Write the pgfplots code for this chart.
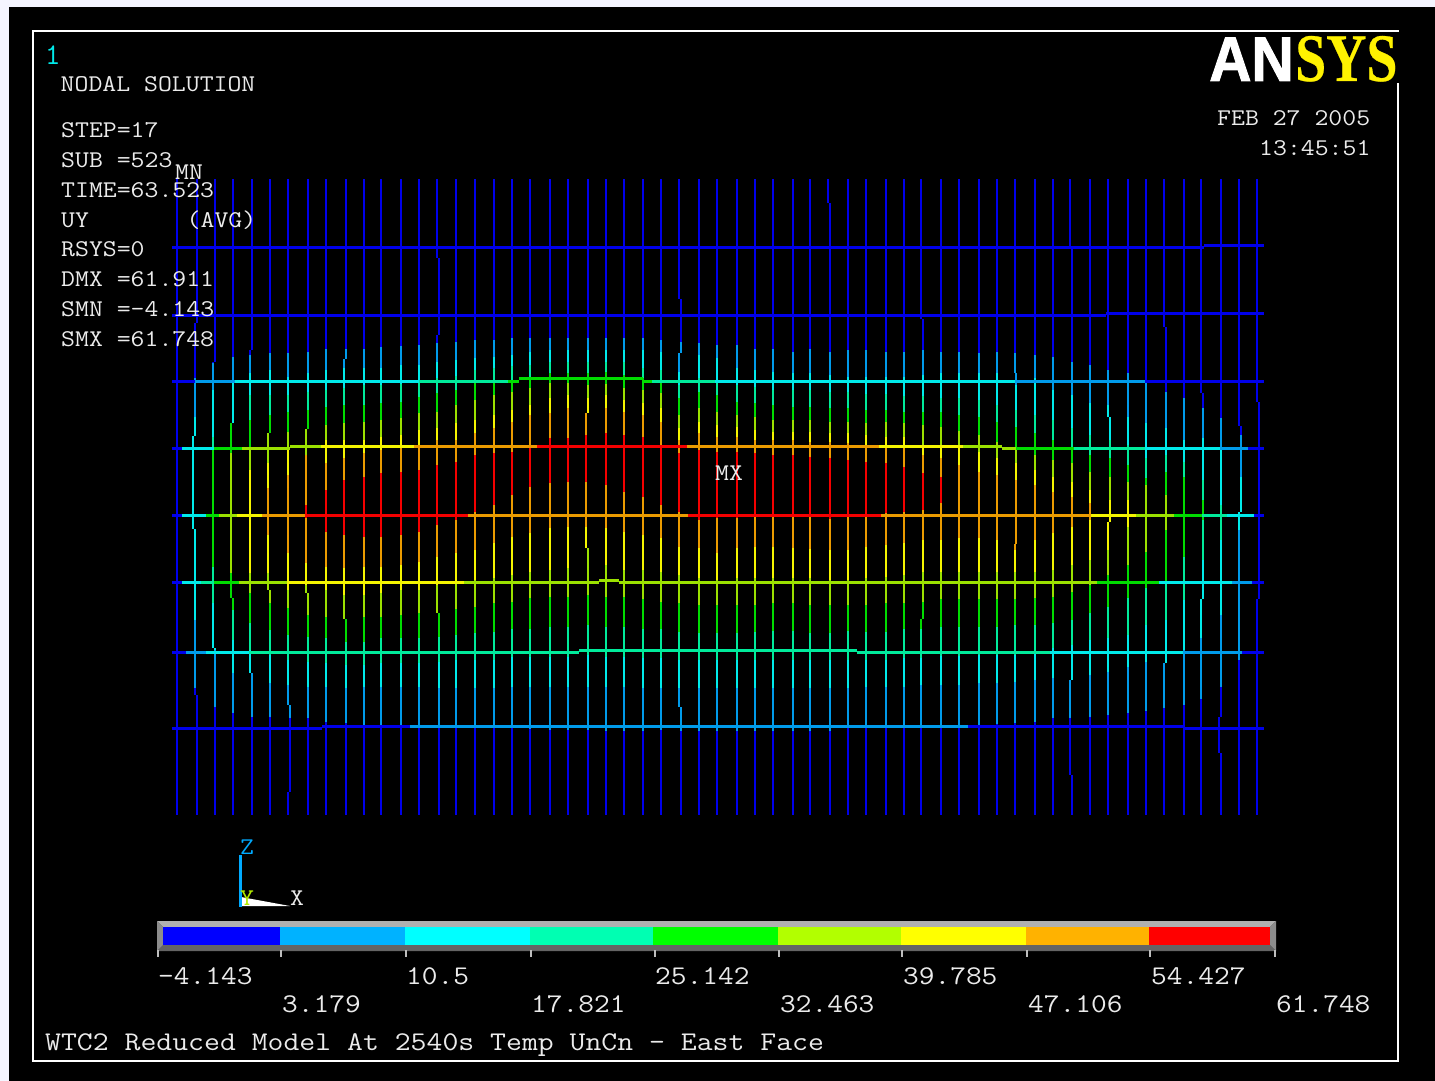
\documentclass[border=0pt]{standalone}
\usepackage{fontspec}
\usepackage{pgfplots}
\pgfplotsset{compat=1.18}
\newfontfamily\logoA[FakeBold=1.5]{Liberation Sans}
\newfontfamily\logoB[FakeBold=0.4]{Liberation Serif}
% line colours of the contour bands
\definecolor{C0}{RGB}{0,0,235}
\definecolor{C1}{RGB}{0,155,235}
\definecolor{C2}{RGB}{0,235,235}
\definecolor{C3}{RGB}{0,235,155}
\definecolor{C4}{RGB}{0,220,0}
\definecolor{C5}{RGB}{155,225,0}
\definecolor{C6}{RGB}{245,245,0}
\definecolor{C7}{RGB}{235,155,0}
\definecolor{C8}{RGB}{245,0,0}
% legend colours
\definecolor{B0}{RGB}{0,0,255}
\definecolor{B1}{RGB}{0,178,255}
\definecolor{B2}{RGB}{0,255,255}
\definecolor{B3}{RGB}{0,255,178}
\definecolor{B4}{RGB}{0,255,0}
\definecolor{B5}{RGB}{178,255,0}
\definecolor{B6}{RGB}{255,255,0}
\definecolor{B7}{RGB}{255,178,0}
\definecolor{B8}{RGB}{255,0,0}
\definecolor{txt}{RGB}{235,235,235}
\foreach \k in {0,...,8}{\expandafter\gdef\csname S\k\endcsname{}\expandafter\gdef\csname T\k\endcsname{}}
% a vertical grid line at x: list of y/colour, each colour holding down to the next y
\newcommand\VL[2]{\pgfmathsetmacro\rx{round(#1)}\foreach \y/\c [remember=\y as \py (initially 0), remember=\c as \pc (initially -1)] in {#2}{\ifnum\pc>-1 \expandafter\xdef\csname S\pc\endcsname{\csname S\pc\endcsname (\rx,\py)(\rx,\y)(\rx,nan)}\fi}}
% a horizontal grid line at y: list of x/colour
\newcommand\HL[2]{\pgfmathsetmacro\ry{round(#1)}\foreach \x/\c [remember=\x as \px (initially 0), remember=\c as \pc (initially -1)] in {#2}{\ifnum\pc>-1 \expandafter\xdef\csname T\pc\endcsname{\csname T\pc\endcsname (\px,\ry)(\x,\ry)(nan,\ry)}\fi}}
\newcommand\TS[3]{\node[anchor=base west,inner sep=0pt,text=txt] at (axis cs:#1,#2) {\fontsize{24}{24}\selectfont\ttfamily\scalebox{1.125}[1]{#3}};}
\newcommand\TB[3]{\node[anchor=base west,inner sep=0pt,text=txt] at (axis cs:#1,#2) {\fontsize{27}{27}\selectfont\ttfamily\scalebox{1.13}[1]{#3}};}
\begin{document}
\begin{tikzpicture}
\begin{axis}[hide axis,scale only axis,width=1435pt,height=1081pt,
  xmin=0,xmax=1435,ymin=0,ymax=1081,y dir=reverse,clip=true]
\fill[white!96!blue] (axis cs:0,0) rectangle (axis cs:1435,1081);
\fill[black] (axis cs:9,7) rectangle (axis cs:1435,1081);
\draw[white,line width=2pt] (axis cs:33,31) rectangle (axis cs:1398,1061);

% vertical lines
\VL{176.8}{179/0,815/0}
\VL{196.8}{179/0,323/0}\VL{194.6}{323/0,378/1,417/2,436/2}\VL{192.5}{436/2,529/2}\VL{194.6}{529/2,620/1,688/0,695/0}\VL{196.8}{695/0,815/0}
\VL{214.6}{179/0,362/0}\VL{212.5}{362/0,363/1,390/2,437/3,450/4,567/3,603/2,648/2}\VL{214.6}{648/2,650/1,707/0,815/0}
\VL{232.5}{179/0,357/1,380/2,423/2}\VL{230.7}{423/4,453/5,573/4,598/4}\VL{232.5}{598/4,610/3,640/2,673/1,713/0,815/0}
\VL{252.1}{179/0,350/0}\VL{250.4}{350/0,355/1,373/2,395/3,420/4,447/5,470/6,573/5,593/4,623/3,650/2,673/2}\VL{252.1}{673/1,717/0,815/0}
\VL{270}{179/0,353/1,370/2,395/3,415/4,433/4}\VL{268.2}{433/5,463/6,488/7,535/6,573/5,590/5}\VL{270}{590/5,603/4,630/3,655/2,683/1,717/0,815/0}
\VL{287.9}{179/0,353/1,377/2,395/3,412/4,432/5,450/6,475/7,553/6,590/5,608/4,635/3,660/2,685/1,705/1}\VL{290}{705/1,718/0,792/0}\VL{287.9}{792/0,815/0}
\VL{307.9}{179/0,352/1,373/2,392/3,410/4,429/4}\VL{305.7}{429/5,455/7,505/8,518/7,563/6,585/5,593/5}\VL{307.9}{593/5,615/4,637/3,662/2,687/1,718/0,815/0}
\VL{325.7}{179/0,349/1,370/2,390/3,407/4,425/5,440/6,463/7,490/8,532/7,567/6,590/5,617/4,638/3,663/2,687/1,722/0,815/0}
\VL{345.7}{179/0,349/1,359/1}\VL{343.6}{359/1,368/2,388/3,405/4,423/5,440/6,458/7,480/8,535/7,568/6,595/5,619/5}\VL{345.7}{619/4,642/3,665/2,688/1,723/0,815/0}
\VL{363.6}{179/0,349/1,368/2,385/3,405/4,422/5,440/6,453/7,477/8,537/7,567/6,595/5,617/4,642/3,665/2,687/1,725/0,815/0}
\VL{381.4}{179/0,347/1,368/2,385/3,403/4,420/5,437/6,450/7,473/8,537/7,567/6,593/5,617/4,638/3,663/2,687/1,725/0,815/0}
\VL{401}{179/0,346/1,365/2,384/3,402/4,418/5,435/6,447/7,472/8,535/7,565/6,590/5,615/4,638/3,663/2,687/1,725/0,815/0}
\VL{418.9}{179/0,345/1,365/2,380/3,397/4,413/5,430/6,447/7,470/8,532/7,562/6,590/5,613/4,638/3,663/2,687/1,727/0,815/0}
\VL{436.8}{179/0,258/0}\VL{438.6}{258/0,335/0}\VL{436.8}{335/0,343/1,362/2,378/3,393/4,412/5,428/6,440/7,465/8,525/7,557/6,585/5,613/5}\VL{438.6}{613/4,637/3,662/2,688/1,727/0,815/0}
\VL{456.4}{179/0,342/1,360/2,376/3,390/4,405/5,423/6,440/7,462/8,520/7,553/6,582/5,609/4,635/3,660/2,688/1,727/0,815/0}
\VL{474.6}{179/0,340/1,358/2,370/3,383/4,400/5,420/6,433/7,455/8,512/7,550/6,580/5,607/4,633/3,660/2,688/1,728/0,815/0}
\VL{494.3}{179/0,340/1,357/2,368/3,382/4,395/5,415/6,428/7,453/8,505/7,543/6,578/5,603/4,632/3,660/2,688/1,728/0,815/0}
\VL{512.1}{179/0,338/1,355/2,366/3,380/4,392/5,410/6,422/7,452/8,495/7,537/6,575/5,602/4,629/3,657/2,687/1,728/0,815/0}
\VL{530}{179/0,338/1,352/2,365/3,377/4,388/5,405/6,415/7,447/8,487/7,533/6,572/5,598/4,629/3,657/2,687/1,729/0,815/0}
\VL{550}{179/0,338/1,350/2,362/3,373/4,383/5,398/6,413/7,438/8,483/7,528/6,570/5,597/4,627/3,657/2,687/1,730/0,815/0}
\VL{567.9}{179/0,338/1,350/2,362/3,373/4,383/5,395/6,408/7,438/8,482/7,527/6,568/5,597/4,627/3,657/2,687/1,730/0,815/0}
\VL{587.9}{179/0,338/1,350/2,362/3,373/4,385/5,398/6,413/6}\VL{585.7}{413/7,435/8,482/7,527/6,548/6}\VL{587.9}{548/5,595/4,625/3,655/2,687/1,730/0,815/0}
\VL{605.7}{179/0,338/1,350/2,362/3,372/4,384/5,395/6,408/7,433/8,485/7,528/6,565/5,597/4,627/3,657/2,687/1,731/0,815/0}
\VL{623.6}{179/0,338/1,350/2,362/3,375/4,388/5,400/6,412/7,435/8,492/7,532/6,570/5,597/4,627/3,657/2,687/1,731/0,815/0}
\VL{643.2}{179/0,338/1,350/2,368/3,378/4,390/5,403/6,415/7,437/8,497/7,535/6,570/5,599/4,629/3,658/2,688/1,731/0,815/0}
\VL{661}{179/0,340/1,352/2,370/3,382/4,393/5,408/6,422/7,445/8,505/7,538/6,572/5,602/4,629/3,658/2,688/1,730/0,815/0}
\VL{679}{179/0,299/0}\VL{681}{299/0,342/1,353/1}\VL{679}{353/1,372/2,385/3,398/4,415/5,428/6,440/7,453/8,512/7,547/6,575/5,603/4,632/3,660/2,688/1,707/1}\VL{681}{707/1,731/0,815/0}
\VL{699}{179/0,343/1,355/2,378/3,392/4,408/5,422/6,433/7,450/8,520/7,548/6,578/5,605/4,633/3,660/2,688/1,731/0,815/0}
\VL{716.8}{179/0,345/1,358/2,380/3,395/4,412/5,425/6,437/7,452/8,518/7,553/6,580/5,605/4,633/3,660/2,688/1,731/0,815/0}
\VL{736.8}{179/0,345/1,368/2,385/3,402/4,415/5,427/6,437/7,452/8,518/7,548/6,578/5,605/4,633/3,660/2,688/1,731/0,815/0}
\VL{754.6}{179/0,349/1,370/2,387/3,403/4,417/5,430/6,440/7,453/8,515/7,547/6,578/5,605/4,632/3,660/2,688/1,731/0,815/0}
\VL{772.5}{179/0,349/1,372/2,390/3,405/4,420/5,432/6,440/7,455/8,515/7,547/6,578/5,603/4,631/3,660/2,688/1,731/0,815/0}
\VL{792.5}{179/0,352/1,373/2,390/3,407/4,420/5,432/6,440/7,455/8,515/7,548/6,578/5,603/4,631/3,660/2,688/1,731/0,815/0}
\VL{810.4}{179/0,349/1,373/2,390/3,407/4,420/5,432/6,442/7,457/8,517/7,549/6,578/5,605/4,633/3,660/2,688/1,731/0,815/0}
\VL{828.2}{179/0,203/0}\VL{830}{203/0,352/1,375/2,392/3,408/4,422/5,433/6,442/7,458/8,519/7,550/6,580/5,605/4,633/3,660/2,688/1,731/0,815/0}
\VL{847.9}{179/0,350/1,377/2,392/3,408/4,422/5,433/6,443/7,460/8,517/7,550/6,580/5,605/4,631/3,660/2,688/1,728/0,815/0}
\VL{865.7}{179/0,350/1,377/2,394/3,410/4,423/5,435/6,447/7,462/8,515/7,547/6,578/5,605/4,632/3,660/2,687/1,728/0,815/0}
\VL{885.7}{179/0,352/1,377/2,394/3,410/4,422/5,437/6,448/7,463/8,513/7,545/6,577/5,603/4,632/3,660/2,687/1,728/0,815/0}
\VL{903.6}{179/0,352/1,377/2,396/3,412/4,423/5,437/6,448/7,467/8,512/7,543/6,575/5,603/4,629/3,658/2,687/1,728/0,815/0}
\VL{921}{179/0,319/0}\VL{923.2}{319/0,350/1,375/2,396/3,412/4,425/5,445/6,455/7,473/8,510/7,540/6,572/5,602/4,619/4}\VL{921}{619/4,629/3,658/2,685/1,727/0,815/0}
\VL{941.4}{179/0,352/1,373/2,398/3,412/4,427/5,445/6,458/7,477/8,503/7,540/6,572/5,599/4,627/3,656/2,685/1,727/0,815/0}
\VL{959.3}{179/0,352/1,373/2,398/3,415/4,431/5,448/6,465/7,538/6,572/5,599/4,627/3,656/2,685/1,725/0,815/0}
\VL{978.9}{179/0,353/1,373/2,400/3,417/4,435/5,452/6,472/7,538/6,572/5,599/4,627/3,655/2,683/1,726/0,815/0}
\VL{996.8}{179/0,352/1,373/2,405/3,422/4,442/5,458/6,475/7,540/6,572/5,599/4,627/3,655/2,683/1,724/0,815/0}
\VL{1014.6}{179/0,353/1,373/1}\VL{1016.4}{373/1,385/2,410/3,427/4,447/5,463/6,480/7,544/7}\VL{1014.6}{544/7,550/6,572/5,599/4,625/3,655/2,682/1,723/0,815/0}
\VL{1034.6}{179/0,355/1,378/2,415/3,433/4,455/5,470/6,485/7,540/6,572/5,598/4,625/3,653/2,680/1,722/0,815/0}
\VL{1052.5}{179/0,357/1,390/2,420/3,440/4,460/5,477/6,492/7,533/6,570/5,597/4,623/3,648/2,678/1,718/0,815/0}
\VL{1070.4}{179/0,249/0}\VL{1072.1}{249/0,362/1,395/2,428/3,448/4,463/5,482/6,497/7,527/6,565/5,592/4,620/3,645/2,680/2}\VL{1070.4}{680/1,718/0,775/0}\VL{1072.1}{775/0,815/0}
\VL{1090}{179/0,365/1,403/2,435/3,455/4,472/5,490/6,503/7,520/6,560/5,585/4,613/3,640/2,675/1,717/0,815/0}
\VL{1108.2}{179/0,370/1,405/2,417/2}\VL{1110}{417/2,440/3,458/4,477/5,500/6,522/6}\VL{1108.2}{522/6,550/5,575/4,607/3,638/2,672/1,715/0,815/0}
\VL{1127.9}{179/0,373/1,417/2,445/3,465/4,482/5,500/6,527/5,565/4,598/3,635/2,667/1,713/0,815/0}
\VL{1145.7}{179/0,381/1,423/2,458/3,478/4,485/5,552/4,588/3,625/2,662/1,711/0,815/0}
\VL{1163.6}{179/0,327/0}\VL{1165.7}{327/0,392/1,428/2,455/3,472/4,495/5,530/4,582/3,620/2,663/2}\VL{1163.6}{663/1,708/0,815/0}
\VL{1183.6}{179/0,398/1,440/2,462/3,477/4,557/3,600/2,650/1,705/0,815/0}
\VL{1201.4}{179/0,393/0}\VL{1203.2}{393/0,408/1,438/2,480/3,500/4,520/3,560/2,599/2}\VL{1201.4}{599/2,638/1,699/0,815/0}
\VL{1221}{179/0,418/1,448/2,505/3,540/2,615/1,687/0,717/0}\VL{1219}{717/0,753/0}\VL{1221}{753/0,815/0}
\VL{1239}{179/0,426/0}\VL{1241}{426/0,435/1,477/2,512/2}\VL{1239}{512/2,530/1,660/0,815/0}
\VL{1256.8}{179/0,402/0}\VL{1259}{402/0,599/0}\VL{1256.8}{599/0,815/0}

% horizontal lines
\HL{246.7}{172/0,1204/0}\HL{244.7}{1204/0,1264/0}
\HL{314.5}{172/0,1105.7/0}\HL{312.7}{1105.7/0,1264/0}
\HL{380.7}{172/0,195/1,235/2,419/3,508/4,519/4}\HL{378.3}{519/4,643/4}\HL{380.7}{643/4,652/3,715/2,1015/1,1145/0,1264/0}
\HL{448.3}{172/0,182/2,214/4,242/5,290/5}\HL{446.3}{290/5,321/6,414/7,537/8,687/7,879/6,963/5,1002/5}\HL{448.3}{1002/5,1016/4,1074/3,1145/2,1220/1,1248/0,1264/0}
\HL{514.5}{172/0,182/2,206/4,219/5,237/6,262/7,305/8,468/7,688/8,881/7,1091/6,1136/5,1174/4,1202/3,1227/2,1254/0,1264/0}
\HL{582.3}{172/0,182/2,201/3,214/4,239/5,287/6,464/5,599/5}\HL{580}{599/5,619/5}\HL{582.3}{619/5,1097/4,1159/2,1232/1,1252/0,1264/0}
\HL{652}{172/0,186/1,206/2,249/3,579/3}\HL{650}{579/3,857/3}\HL{652}{857/3,1050/2,1183/1,1242/0,1264/0}
\HL{728}{172/0,322/0}\HL{726}{322/0,410/1,968/0,1184/0}\HL{728}{1184/0,1264/0}

\foreach \k in {0,...,8}{\edef\tmp{\noexpand\addplot[forget plot,C\k,line width=2.6pt,unbounded coords=jump] coordinates {\csname S\k\endcsname};}\tmp}
\foreach \k in {0,...,8}{\edef\tmp{\noexpand\addplot[forget plot,C\k,line width=3pt,unbounded coords=jump] coordinates {\csname T\k\endcsname};}\tmp}

% triad
\addplot[forget plot,fill=white,draw=none] coordinates {(241,897)(290,906)(241,906)} --cycle;
\addplot[forget plot,color={rgb,255:red,0;green,170;blue,255},line width=3pt] coordinates {(240,855)(240,907)};

% legend bar
\addplot[forget plot,fill={rgb,255:red,176;green,176;blue,176},draw=none] coordinates {(157,921)(1276,921)(1270,927)(163,927)} --cycle;
\addplot[forget plot,fill={rgb,255:red,100;green,100;blue,100},draw=none] coordinates {(157,951)(1276,951)(1270,945)(163,945)} --cycle;
\addplot[forget plot,fill={rgb,255:red,140;green,140;blue,140},draw=none] coordinates {(157,921)(163,927)(163,945)(157,951)} --cycle;
\addplot[forget plot,fill={rgb,255:red,140;green,140;blue,140},draw=none] coordinates {(1276,921)(1270,927)(1270,945)(1276,951)} --cycle;
\addplot[forget plot,fill=B0,draw=none] coordinates {(163,927)(280,927)(280,945)(163,945)} --cycle;
\addplot[forget plot,fill=B1,draw=none] coordinates {(280,927)(405,927)(405,945)(280,945)} --cycle;
\addplot[forget plot,fill=B2,draw=none] coordinates {(405,927)(530,927)(530,945)(405,945)} --cycle;
\addplot[forget plot,fill=B3,draw=none] coordinates {(530,927)(653,927)(653,945)(530,945)} --cycle;
\addplot[forget plot,fill=B4,draw=none] coordinates {(653,927)(778,927)(778,945)(653,945)} --cycle;
\addplot[forget plot,fill=B5,draw=none] coordinates {(778,927)(901,927)(901,945)(778,945)} --cycle;
\addplot[forget plot,fill=B6,draw=none] coordinates {(901,927)(1026,927)(1026,945)(901,945)} --cycle;
\addplot[forget plot,fill=B7,draw=none] coordinates {(1026,927)(1149,927)(1149,945)(1026,945)} --cycle;
\addplot[forget plot,fill=B8,draw=none] coordinates {(1149,927)(1270,927)(1270,945)(1149,945)} --cycle;
\addplot[forget plot,color={rgb,255:red,190;green,190;blue,190},line width=1.6pt,unbounded coords=jump] coordinates {(158,950)(158,957)(nan,957)(281,950)(281,957)(nan,957)(406,950)(406,957)(nan,957)(531,950)(531,957)(nan,957)(655,950)(655,957)(nan,957)(779,950)(779,957)(nan,957)(902,950)(902,957)(nan,957)(1027,950)(1027,957)(nan,957)(1150,950)(1150,957)(nan,957)(1275,950)(1275,957)};

% logo
\fill[black] (axis cs:1206,32.5) rectangle (axis cs:1400,83);
\node[anchor=base west,inner sep=0pt,white] at (axis cs:1209,81) {\logoA\bfseries\fontsize{63}{63}\selectfont\scalebox{0.93}[1]{AN}};
\node[anchor=base west,inner sep=0pt,yellow] at (axis cs:1295,81) {\logoB\bfseries\fontsize{68}{68}\selectfont\scalebox{0.82}[1]{SYS}};

% text
\node[anchor=base west,inner sep=0pt,text={rgb,255:red,0;green,235;blue,235}] at (axis cs:45,65) {\fontsize{30}{30}\selectfont\ttfamily 1};
\TS{60.5}{91.5}{NODAL SOLUTION}
\TS{61}{137}{STEP=17}
\TS{61}{167}{SUB =523}
\TS{61}{197}{TIME=63.523}
\TS{61}{227}{UY}
\TS{186.5}{227}{(AVG)}
\TS{61}{256}{RSYS=0}
\TS{61}{286}{DMX =61.911}
\TS{61}{316}{SMN =-4.143}
\TS{61}{346}{SMX =61.748}
\TS{175}{179}{MN}
\TS{715}{480}{MX}
\TS{1217}{125}{FEB 27 2005}
\TS{1259}{155}{13:45:51}
\TB{158}{984}{-4.143}
\TB{282}{1012}{3.179}
\TB{406}{984}{10.5}
\TB{531}{1012}{17.821}
\TB{655}{984}{25.142}
\TB{780}{1012}{32.463}
\TB{903}{984}{39.785}
\TB{1028}{1012}{47.106}
\TB{1151}{984}{54.427}
\TB{1276}{1012}{61.748}
\node[anchor=base west,inner sep=0pt,text=txt] at (axis cs:45,1050) {\fontsize{27}{27}\selectfont\ttfamily\scalebox{1.143}[1]{WTC2 Reduced Model At 2540s Temp UnCn - East Face}};
\node[anchor=base west,inner sep=0pt,text={rgb,255:red,0;green,170;blue,255}] at (axis cs:240,854) {\fontsize{24}{24}\selectfont\ttfamily\scalebox{1.125}[1]{Z}};
\node[anchor=base west,inner sep=0pt,text={rgb,255:red,178;green,235;blue,0}] at (axis cs:240,905) {\fontsize{24}{24}\selectfont\ttfamily\scalebox{1.125}[1]{Y}};
\TS{290}{905}{X}
\end{axis}
\end{tikzpicture}
\end{document}
